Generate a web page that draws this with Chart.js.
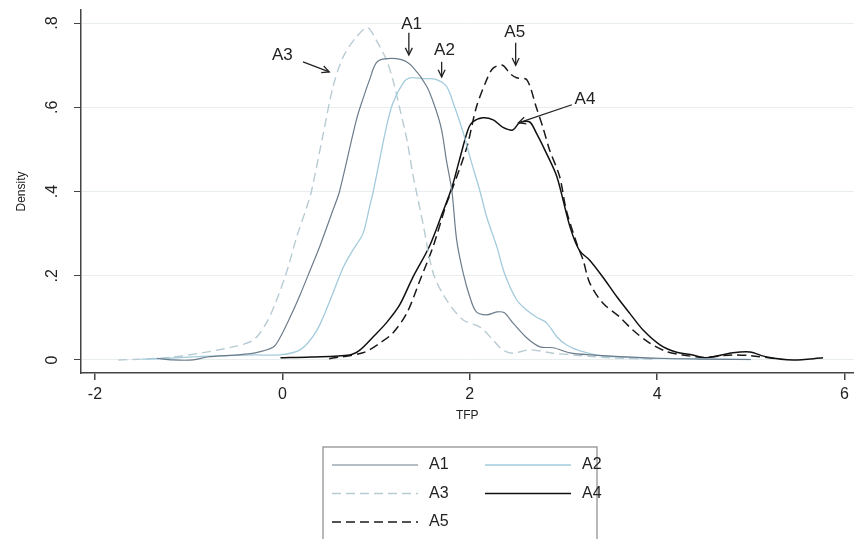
<!DOCTYPE html>
<html>
<head>
<meta charset="utf-8">
<script src="https://cdn.jsdelivr.net/npm/chart.js@4.4.0/dist/chart.umd.min.js"></script>
<style>
  html, body { margin: 0; padding: 0; background: #fff; }
  #wrap { width: 854px; height: 539px; }
</style>
</head>
<body>
<div id="wrap"><canvas id="densityChart" width="854" height="539"></canvas></div>
<script>
// --- data ---
const seriesNames = ["A1", "A2", "A3", "A4", "A5"];

const a1X = [-1.34, -1.17, -0.95, -0.8, -0.48, -0.31, -0.1, -0.02, 0.08, 0.19, 0.3, 0.4, 0.54, 0.61, 0.79, 0.86, 0.93, 1.0, 1.09, 1.27, 1.39, 1.54, 1.63, 1.7, 1.75, 1.81, 1.86, 1.93, 2.0, 2.07, 2.18, 2.29, 2.37, 2.46, 2.61, 2.75, 2.89, 3.07, 3.3, 3.6, 4.0, 4.5, 5.0];
const a1Y = [0.004, 0.0, 0.0, 0.007, 0.012, 0.016, 0.03, 0.055, 0.1, 0.155, 0.215, 0.27, 0.356, 0.4, 0.57, 0.62, 0.665, 0.705, 0.715, 0.713, 0.696, 0.65, 0.6, 0.546, 0.475, 0.4, 0.285, 0.206, 0.15, 0.114, 0.107, 0.114, 0.112, 0.088, 0.052, 0.031, 0.029, 0.017, 0.012, 0.008, 0.004, 0.002, 0.001];

const a2X = [-1.5, -1.2, -0.9, -0.6, -0.3, -0.03, 0.19, 0.37, 0.51, 0.65, 0.75, 0.86, 0.93, 0.97, 1.11, 1.18, 1.29, 1.36, 1.5, 1.63, 1.75, 1.84, 1.93, 2.02, 2.11, 2.18, 2.29, 2.37, 2.5, 2.6, 2.71, 2.82, 2.93, 3.03, 3.17, 3.4, 3.8, 4.3, 5.0];
const a2Y = [0.002, 0.004, 0.008, 0.01, 0.012, 0.012, 0.024, 0.071, 0.142, 0.22, 0.26, 0.3, 0.363, 0.4, 0.553, 0.61, 0.658, 0.67, 0.668, 0.667, 0.65, 0.6, 0.54, 0.468, 0.4, 0.34, 0.268, 0.206, 0.143, 0.12, 0.102, 0.088, 0.055, 0.036, 0.022, 0.01, 0.005, 0.003, 0.001];

const a3X = [-1.75, -1.5, -1.2, -0.88, -0.53, -0.31, -0.17, -0.06, 0.05, 0.15, 0.26, 0.31, 0.43, 0.54, 0.65, 0.79, 0.91, 1.0, 1.11, 1.18, 1.25, 1.33, 1.39, 1.43, 1.5, 1.61, 1.75, 1.93, 2.11, 2.25, 2.35, 2.46, 2.64, 2.89, 3.1, 3.5, 4.0];
const a3Y = [0.0, 0.002, 0.006, 0.016, 0.031, 0.047, 0.088, 0.143, 0.212, 0.29, 0.363, 0.4, 0.53, 0.648, 0.72, 0.767, 0.789, 0.76, 0.713, 0.665, 0.6, 0.522, 0.444, 0.4, 0.325, 0.206, 0.143, 0.095, 0.078, 0.047, 0.024, 0.016, 0.024, 0.016, 0.012, 0.005, 0.002];

const a4X = [-0.02, 0.3, 0.72, 0.83, 0.97, 1.11, 1.25, 1.39, 1.57, 1.71, 1.81, 1.89, 1.98, 2.03, 2.14, 2.25, 2.35, 2.46, 2.53, 2.64, 2.71, 2.82, 2.93, 3.07, 3.17, 3.28, 3.42, 3.57, 3.71, 3.85, 4.03, 4.2, 4.38, 4.52, 4.81, 4.99, 5.17, 5.45, 5.77];
const a4Y = [0.005, 0.007, 0.012, 0.024, 0.055, 0.088, 0.13, 0.195, 0.27, 0.35, 0.41, 0.475, 0.546, 0.565, 0.575, 0.57, 0.553, 0.546, 0.563, 0.565, 0.539, 0.49, 0.435, 0.316, 0.26, 0.237, 0.197, 0.15, 0.11, 0.071, 0.036, 0.019, 0.012, 0.005, 0.017, 0.019, 0.007, 0.0, 0.005];

const a5X = [0.5, 0.86, 1.04, 1.18, 1.33, 1.47, 1.61, 1.75, 1.82, 1.97, 2.07, 2.18, 2.25, 2.35, 2.43, 2.5, 2.61, 2.71, 2.78, 2.85, 2.96, 3.03, 3.14, 3.21, 3.28, 3.42, 3.6, 3.74, 3.92, 4.1, 4.27, 4.5, 4.8, 5.0, 5.3];
const a5Y = [0.003, 0.017, 0.04, 0.064, 0.112, 0.19, 0.27, 0.37, 0.41, 0.506, 0.6, 0.665, 0.693, 0.7, 0.68, 0.67, 0.665, 0.6, 0.553, 0.5, 0.435, 0.356, 0.278, 0.237, 0.183, 0.135, 0.102, 0.071, 0.04, 0.02, 0.012, 0.006, 0.012, 0.01, 0.002];

const xTicks = [-2, 0, 2, 4, 6];
const yTicks = [0, 0.2, 0.4, 0.6, 0.8];
const yTickLabels = ["0", ".2", ".4", ".6", ".8"];

// arrow labels: text position and arrow start/end, in data units
const noteText = ["A3", "A1", "A2", "A5", "A4"];
const noteAt = [[0.0, 0.724], [1.38, 0.796], [1.73, 0.736], [2.48, 0.777], [3.23, 0.618]];
const noteFrom = [[0.22, 0.708], [1.35, 0.777], [1.7, 0.708], [2.49, 0.753], [3.09, 0.606]];
const noteTo = [[0.5, 0.684], [1.35, 0.724], [1.7, 0.672], [2.49, 0.7], [2.52, 0.563]];

const FONT = '"Liberation Sans", Arial, Helvetica, sans-serif';
Chart.defaults.font.family = FONT;

function pts(xs, ys) {
    return xs.map((x, i) => ({ x: x, y: ys[i] }));
}

const styles = [
    { color: "#6d7c8b", dash: [], width: 1.2 },
    { color: "#a3cbdc", dash: [], width: 1.3 },
    { color: "#b8cbd3", dash: [9, 5], width: 1.4 },
    { color: "#111111", dash: [], width: 1.5 },
    { color: "#1a1a1a", dash: [9, 5], width: 1.5 }
];
const allData = [pts(a1X, a1Y), pts(a2X, a2Y), pts(a3X, a3Y), pts(a4X, a4Y), pts(a5X, a5Y)];

const datasets = seriesNames.map((name, i) => ({
    label: name,
    data: allData[i],
    borderColor: styles[i].color,
    borderDash: styles[i].dash,
    borderWidth: styles[i].width,
    pointRadius: 0,
    fill: false,
    tension: 0.3
}));

function arrow(ctx, x1, y1, x2, y2) {
    const ang = Math.atan2(y2 - y1, x2 - x1);
    const h = 8;
    ctx.beginPath();
    ctx.moveTo(x1, y1);
    ctx.lineTo(x2, y2);
    ctx.stroke();
    ctx.beginPath();
    ctx.moveTo(x2 - h * Math.cos(ang - 0.45), y2 - h * Math.sin(ang - 0.45));
    ctx.lineTo(x2, y2);
    ctx.lineTo(x2 - h * Math.cos(ang + 0.45), y2 - h * Math.sin(ang + 0.45));
    ctx.stroke();
}

// rotated y labels, arrow notes and the boxed legend
const stataExtras = {
    id: "stataExtras",
    afterDraw(chart) {
        const ctx = chart.ctx;
        const xs = chart.scales.x;
        const ys = chart.scales.y;
        ctx.save();

        ctx.font = "16px " + FONT;
        ctx.fillStyle = "#222";
        ctx.textAlign = "center";
        ctx.textBaseline = "middle";
        yTicks.forEach((v, i) => {
            ctx.save();
            ctx.translate(ys.right - 28, ys.getPixelForValue(v));
            ctx.rotate(-Math.PI / 2);
            ctx.fillText(yTickLabels[i], 0, 0);
            ctx.restore();
        });

        ctx.font = "17px " + FONT;
        ctx.strokeStyle = "#222";
        ctx.lineWidth = 1.3;
        noteText.forEach((t, i) => {
            ctx.fillText(t, xs.getPixelForValue(noteAt[i][0]), ys.getPixelForValue(noteAt[i][1]));
            arrow(ctx,
                xs.getPixelForValue(noteFrom[i][0]), ys.getPixelForValue(noteFrom[i][1]),
                xs.getPixelForValue(noteTo[i][0]), ys.getPixelForValue(noteTo[i][1]));
        });

        // legend box
        const bx = 323, by = 447, bw = 274, bh = 100;
        ctx.strokeStyle = "#a0a0a0";
        ctx.lineWidth = 1.5;
        ctx.strokeRect(bx, by, bw, bh);
        ctx.font = "16px " + FONT;
        ctx.textAlign = "left";
        chart.data.datasets.forEach((ds, i) => {
            const col = i % 2, row = Math.floor(i / 2);
            const lx = bx + 9 + col * 153;
            const ly = by + 18 + row * 28.5;
            ctx.save();
            ctx.strokeStyle = ds.borderColor;
            ctx.lineWidth = ds.borderWidth;
            ctx.setLineDash(ds.borderDash);
            ctx.beginPath();
            ctx.moveTo(lx, ly);
            ctx.lineTo(lx + 86, ly);
            ctx.stroke();
            ctx.restore();
            ctx.fillStyle = "#222";
            ctx.fillText(ds.label, lx + 97, ly);
        });

        ctx.restore();
    }
};

new Chart(document.getElementById("densityChart"), {
    type: "line",
    data: { datasets: datasets },
    options: {
        responsive: false,
        animation: false,
        layout: { padding: { top: 10, right: 0, bottom: 116, left: 0 } },
        plugins: {
            legend: { display: false },
            tooltip: { enabled: false }
        },
        scales: {
            x: {
                type: "linear",
                min: -2.149,
                max: 6.096,
                afterBuildTicks: s => { s.ticks = xTicks.map(v => ({ value: v })); },
                afterFit: s => { s.height = 50; },
                grid: { display: true, drawOnChartArea: false, tickLength: 7, tickColor: "#444", lineWidth: 1.5 },
                border: { color: "#444", width: 1.5 },
                ticks: { color: "#222", font: { size: 16 }, padding: 5 },
                title: { display: true, text: "TFP", color: "#222", font: { size: 12 }, padding: { top: 0, bottom: 0 } }
            },
            y: {
                type: "linear",
                min: -0.031,
                max: 0.831,
                afterBuildTicks: s => { s.ticks = yTicks.map(v => ({ value: v })); },
                afterFit: s => { s.width = 81; },
                grid: { color: "#e8eef0", lineWidth: 1, tickColor: "#444", tickLength: 7 },
                border: { color: "#444", width: 1.5 },
                ticks: { display: false },
                title: { display: true, text: "Density", color: "#222", font: { size: 12 }, padding: { top: 14, bottom: 0 } }
            }
        }
    },
    plugins: [stataExtras]
});
</script>
</body>
</html>
